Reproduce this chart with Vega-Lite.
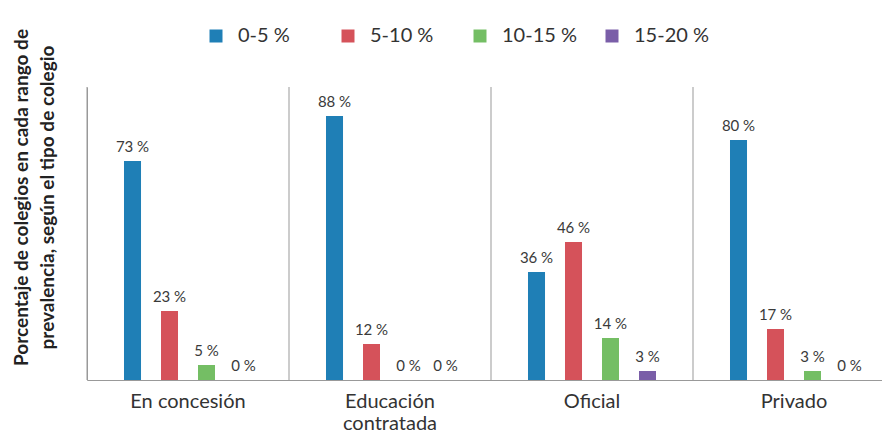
{
  "$schema": "https://vega.github.io/schema/vega-lite/v6.json",
  "width": 795,
  "height": 293,
  "autosize": {"type": "none"},
  "padding": {"left": 87, "top": 87, "right": 0, "bottom": 55},
  "config": {"view": {"stroke": null}, "font": "Lato", "text": {"font": "Lato"}},
  "data": {
    "values": [
      {"tipo": "En concesión", "rango": "0-5 %", "valor": 73},
      {"tipo": "En concesión", "rango": "5-10 %", "valor": 23},
      {"tipo": "En concesión", "rango": "10-15 %", "valor": 5},
      {"tipo": "En concesión", "rango": "15-20 %", "valor": 0},
      {"tipo": "Educación contratada", "rango": "0-5 %", "valor": 88},
      {"tipo": "Educación contratada", "rango": "5-10 %", "valor": 12},
      {"tipo": "Educación contratada", "rango": "10-15 %", "valor": 0},
      {"tipo": "Educación contratada", "rango": "15-20 %", "valor": 0},
      {"tipo": "Oficial", "rango": "0-5 %", "valor": 36},
      {"tipo": "Oficial", "rango": "5-10 %", "valor": 46},
      {"tipo": "Oficial", "rango": "10-15 %", "valor": 14},
      {"tipo": "Oficial", "rango": "15-20 %", "valor": 3},
      {"tipo": "Privado", "rango": "0-5 %", "valor": 80},
      {"tipo": "Privado", "rango": "5-10 %", "valor": 17},
      {"tipo": "Privado", "rango": "10-15 %", "valor": 3},
      {"tipo": "Privado", "rango": "15-20 %", "valor": 0}
    ]
  },
  "encoding": {
    "x": {
      "field": "tipo",
      "type": "nominal",
      "sort": ["En concesión", "Educación contratada", "Oficial", "Privado"],
      "scale": {"range": [0, 808], "paddingInner": 0, "paddingOuter": 0},
      "axis": {
        "title": null,
        "labelAngle": 0,
        "ticks": false,
        "labelFontSize": 20,
        "labelColor": "#333333",
        "labelPadding": 11,
        "labelLineHeight": 22,
        "domainColor": "#999999",
        "labelExpr": "datum.label == 'Educación contratada' ? ['Educación', 'contratada'] : datum.label"
      }
    }
  },
  "layer": [
    {
      "transform": [{"filter": "datum.rango == '0-5 %'"}],
      "mark": {"type": "rule", "color": "#999999", "strokeWidth": 1},
      "encoding": {
        "x": {"field": "tipo", "type": "nominal", "bandPosition": 0, "sort": ["En concesión", "Educación contratada", "Oficial", "Privado"]}
      }
    },
    {
      "mark": {"type": "bar"},
      "encoding": {
        "xOffset": {"field": "rango", "type": "nominal", "sort": ["0-5 %", "5-10 %", "10-15 %", "15-20 %"], "scale": {"paddingInner": 0.54, "paddingOuter": 1.0}},
        "y": {
          "field": "valor",
          "type": "quantitative",
          "scale": {"domain": [0, 97.67], "nice": false},
          "axis": {
            "title": ["Porcentaje de colegios en cada rango de", "prevalencia, según el tipo de colegio"],
            "labels": false,
            "ticks": false,
            "grid": false,
            "domainColor": "#999999",
            "titleFontSize": 19,
            "titleFontWeight": "bold",
            "titleColor": "#222222",
            "titlePadding": 30,
            "titleLineHeight": 26,
            "titleY": 110
          }
        },
        "color": {
          "field": "rango",
          "type": "nominal",
          "sort": ["0-5 %", "5-10 %", "10-15 %", "15-20 %"],
          "scale": {"domain": ["0-5 %", "5-10 %", "10-15 %", "15-20 %"], "range": ["#1f7fb6", "#d5525a", "#74be64", "#7a5ea8"]},
          "legend": {
            "title": null,
            "orient": "none",
            "direction": "horizontal",
            "legendX": 119,
            "legendY": -61,
            "symbolType": "square",
            "symbolSize": 169,
            "symbolStrokeWidth": 0,
            "labelFontSize": 20,
            "labelColor": "#333333",
            "labelOffset": 12,
            "gridAlign": "all",
            "columnPadding": 25
          }
        }
      }
    },
    {
      "transform": [{"calculate": "datum.valor + ' %'", "as": "etiqueta"}],
      "mark": {"type": "text", "baseline": "alphabetic", "dy": -9, "fontSize": 15, "color": "#3a3a3a"},
      "encoding": {
        "xOffset": {"field": "rango", "type": "nominal", "sort": ["0-5 %", "5-10 %", "10-15 %", "15-20 %"], "scale": {"paddingInner": 0.54, "paddingOuter": 1.0}},
        "y": {"field": "valor", "type": "quantitative"},
        "text": {"field": "etiqueta"}
      }
    }
  ]
}
